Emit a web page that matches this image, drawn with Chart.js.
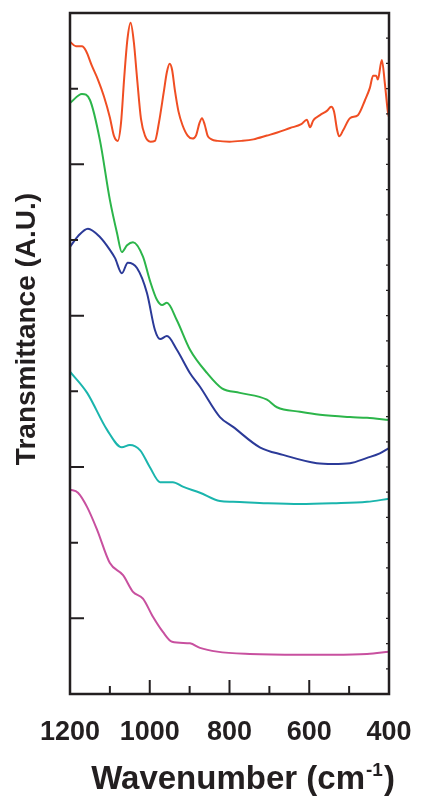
<!DOCTYPE html>
<html>
<head>
<meta charset="utf-8">
<script src="https://cdn.jsdelivr.net/npm/chart.js@4.4.1/dist/chart.umd.min.js"></script>
<style>
  html, body { margin: 0; padding: 0; background: #fff; }
  #wrap { width: 425px; height: 803px; }
</style>
</head>
<body>
<div id="wrap"><canvas id="ftir" width="425" height="803"></canvas></div>
<script>
// FT-IR spectra, stacked with offsets (arbitrary units)
var redWn = [1200, 1185, 1170, 1160, 1145, 1130, 1115, 1100, 1090, 1080, 1072, 1064, 1056, 1048, 1040, 1032, 1022, 1012, 998, 987,
  977, 965, 957, 950, 944, 937, 928, 918, 905, 893, 884, 875, 869, 862, 855, 845, 830, 800, 770, 740,
  706, 680, 648, 620, 606, 598, 590, 573, 555, 545, 538, 530, 525, 515, 498, 478, 460, 448, 440, 432,
  428, 418, 410, 403, 400];
var redT = [8.62, 8.56, 8.56, 8.50, 8.30, 8.12, 7.90, 7.62, 7.38, 7.31, 7.55, 8.15, 8.65, 8.87, 8.62, 8.15, 7.60, 7.38, 7.30, 7.31,
  7.55, 7.95, 8.22, 8.33, 8.25, 7.98, 7.70, 7.52, 7.38, 7.34, 7.38, 7.55, 7.61, 7.52, 7.38, 7.33, 7.31, 7.30, 7.31, 7.33,
  7.38, 7.42, 7.48, 7.53, 7.59, 7.49, 7.58, 7.65, 7.71, 7.76, 7.70, 7.45, 7.37, 7.45, 7.61, 7.65, 7.85, 8.01, 8.17, 8.17,
  8.12, 8.38, 8.05, 7.70, 7.62];

var greenWn = [1200, 1170, 1150, 1125, 1100, 1082, 1070, 1057, 1042, 1017, 1000, 982, 969, 957, 932, 899, 856, 819, 774, 706,
  681, 623, 573, 498, 455, 400];
var greenT = [7.81, 7.93, 7.85, 7.32, 6.53, 6.09, 5.84, 5.93, 5.97, 5.78, 5.47, 5.21, 5.14, 5.17, 4.94, 4.55, 4.24, 4.04, 3.98, 3.89,
  3.79, 3.73, 3.69, 3.66, 3.65, 3.62];

var blueWn = [1200, 1180, 1155, 1125, 1100, 1087, 1070, 1055, 1032, 1007, 987, 974, 957, 932, 899, 874, 824, 791, 724, 666,
  581, 540, 498, 455, 423, 400];
var blueT = [5.91, 6.05, 6.15, 6.04, 5.87, 5.76, 5.56, 5.70, 5.63, 5.30, 4.81, 4.69, 4.73, 4.55, 4.24, 4.06, 3.66, 3.53, 3.26, 3.16,
  3.05, 3.04, 3.05, 3.12, 3.18, 3.25];

var cyanWn = [1200, 1157, 1107, 1070, 1050, 1024, 1000, 974, 942, 917, 874, 824, 791, 706, 623, 540, 455, 400];
var cyanT = [4.26, 3.98, 3.49, 3.26, 3.29, 3.22, 3.00, 2.80, 2.80, 2.74, 2.66, 2.55, 2.54, 2.52, 2.51, 2.52, 2.54, 2.58];

var pinkWn = [1200, 1180, 1157, 1132, 1100, 1067, 1042, 1017, 992, 967, 944, 899, 874, 831, 749, 623, 540, 455, 400];
var pinkT = [2.70, 2.66, 2.47, 2.17, 1.73, 1.57, 1.35, 1.26, 1.02, 0.82, 0.69, 0.67, 0.61, 0.56, 0.53, 0.52, 0.52, 0.53, 0.56];

var xLabels = [1200, 1000, 800, 600, 400];
var ink = "#231f20";

function toPoints(wn, t) {
  return wn.map(function (w, i) { return { x: w, y: t[i] }; });
}

function spectrum(wn, t, color) {
  return {
    data: toPoints(wn, t),
    borderColor: color,
    borderWidth: 2,
    pointRadius: 0,
    fill: false,
    cubicInterpolationMode: "monotone"
  };
}

// frame, inward ticks and axis titles
var framePlugin = {
  id: "frame",
  afterDraw: function (chart) {
    var ctx = chart.ctx, a = chart.chartArea;
    var xs = chart.scales.x, ys = chart.scales.y;
    ctx.save();
    ctx.strokeStyle = ink;
    ctx.lineWidth = 2.5;
    ctx.strokeRect(a.left, a.top, a.right - a.left, a.bottom - a.top);

    ctx.lineWidth = 2;
    ctx.beginPath();
    for (var v = 500; v <= 1100; v += 100) {
      var px = xs.getPixelForValue(v);
      var len = v % 200 === 0 ? 14 : 8;
      ctx.moveTo(px, a.bottom);
      ctx.lineTo(px, a.bottom - len);
    }
    for (var k = 1; k <= 8; k++) {
      var py = ys.getPixelForValue(k);
      var l2 = k % 2 === 1 ? 14 : 8;
      ctx.moveTo(a.left, py);
      ctx.lineTo(a.left + l2, py);
    }
    ctx.stroke();

    ctx.lineWidth = 1.2;
    ctx.beginPath();
    for (var j = 1; j < 27; j++) {
      var ry = ys.getPixelForValue(j / 3);
      ctx.moveTo(a.right, ry);
      ctx.lineTo(a.right - 3, ry);
    }
    ctx.stroke();

    ctx.fillStyle = ink;
    ctx.textBaseline = "middle";
    ctx.textAlign = "center";
    ctx.font = "bold 28px 'Liberation Sans', Arial, sans-serif";
    ctx.save();
    ctx.translate(27, 329);
    ctx.rotate(-Math.PI / 2);
    ctx.fillText("Transmittance (A.U.)", 0, 0);
    ctx.restore();

    // x title with superscript
    ctx.textBaseline = "alphabetic";
    ctx.textAlign = "left";
    var main = "Wavenumber (cm", sup = "-1", close = ")";
    var bigFont = "bold 33px 'Liberation Sans', Arial, sans-serif";
    var smallFont = "bold 19px 'Liberation Sans', Arial, sans-serif";
    ctx.font = bigFont;
    var w1 = ctx.measureText(main).width, w3 = ctx.measureText(close).width;
    ctx.font = smallFont;
    var w2 = ctx.measureText(sup).width;
    var x0 = 242 - (w1 + w2 + w3) / 2, base = 789;
    ctx.font = bigFont;
    ctx.fillText(main, x0, base);
    ctx.font = smallFont;
    ctx.fillText(sup, x0 + w1 + 1, base - 13);
    ctx.font = bigFont;
    ctx.fillText(close, x0 + w1 + w2 + 2, base);
    ctx.restore();
  }
};

new Chart(document.getElementById("ftir"), {
  type: "line",
  data: {
    datasets: [
      spectrum(redWn, redT, "#f04e23"),
      spectrum(greenWn, greenT, "#2cb54a"),
      spectrum(blueWn, blueT, "#2b3a98"),
      spectrum(cyanWn, cyanT, "#1ab5ad"),
      spectrum(pinkWn, pinkT, "#c8509f")
    ]
  },
  options: {
    responsive: false,
    devicePixelRatio: 1,
    animation: false,
    layout: { padding: { top: 13, right: 36, left: 0, bottom: 0 } },
    plugins: { legend: { display: false }, tooltip: { enabled: false } },
    scales: {
      x: {
        type: "linear",
        reverse: true,
        min: 400,
        max: 1200,
        grid: { display: false, drawTicks: false },
        border: { display: false },
        ticks: {
          stepSize: 100,
          autoSkip: false,
          maxRotation: 0,
          padding: 22,
          color: ink,
          font: { family: "'Liberation Sans', Arial, sans-serif", weight: "bold", size: 27 },
          callback: function (v) { return xLabels.indexOf(v) >= 0 ? String(v) : ""; }
        },
        afterFit: function (s) { s.height = 109; s.paddingLeft = 0; s.paddingRight = 0; }
      },
      y: {
        min: 0,
        max: 9,
        grid: { display: false, drawTicks: false },
        border: { display: false },
        ticks: { display: false },
        afterFit: function (s) { s.width = 70; }
      }
    }
  },
  plugins: [framePlugin]
});
</script>
</body>
</html>
